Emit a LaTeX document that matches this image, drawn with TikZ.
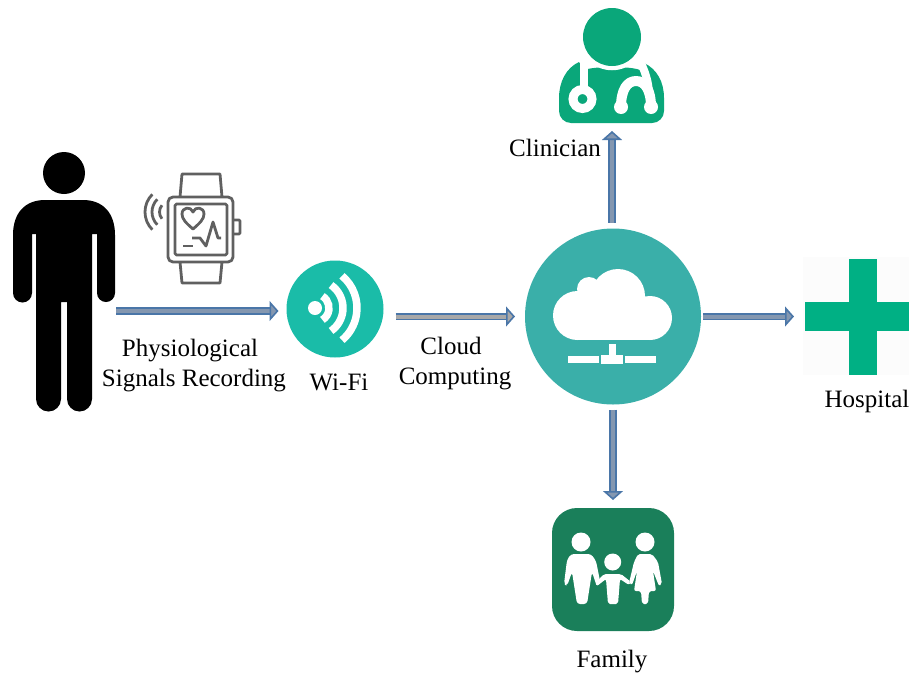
\documentclass[tikz,border=0pt]{standalone}
\usepackage{fontspec}
\setmainfont{Liberation Serif}
\usetikzlibrary{arrows.meta}
\definecolor{arrowedge}{HTML}{4A76A8}
\definecolor{arrowfill}{HTML}{8497B0}
\definecolor{arrowgray}{HTML}{A8A8A8}
\definecolor{wificol}{HTML}{1ABCA8}
\definecolor{cloudcol}{HTML}{3AAFA9}
\definecolor{doccol}{HTML}{0AA77A}
\definecolor{famcol}{HTML}{1A7F5A}
\definecolor{crosscol}{HTML}{00B084}
\definecolor{watchcol}{HTML}{606060}
\tikzset{
  blockarrow/.style={draw=arrowedge,line width=1.8pt,double=#1,double distance=4pt,
    -{Triangle[length=9pt,width=20pt,line width=1.6pt,fill=#1,color=arrowedge]}},
  blockarrow/.default=arrowfill,
  label text/.style={font=\fontsize{25}{30}\selectfont,inner sep=0pt,align=center},
  anchorbox/.style={inner sep=0pt,outer sep=0pt},
  watchline/.style={draw=watchcol,line width=2.8pt,line join=round},
  whiteline/.style={draw=white,line join=round},
}
\begin{document}
\begin{tikzpicture}[x=1pt,y=-1pt]
\useasboundingbox (0,0) rectangle (909,672);

% person
\fill[black] (64,173) circle[radius=21];
\fill[black] (13,235) .. controls (13,213) and (25,200) .. (45,200) -- (83,200)
  .. controls (103,200) and (115,213) .. (115,235) -- (115,293)
  arc[start angle=0,end angle=180,radius=9] -- (97,234) -- (92,234) -- (92,399)
  arc[start angle=0,end angle=180,radius=12.5] -- (67,302) -- (61,302) -- (61,399)
  arc[start angle=0,end angle=180,radius=12.5] -- (36,234) -- (32,234) -- (32,293)
  arc[start angle=0,end angle=180,radius=9.5] -- cycle;
\node[anchorbox,minimum width=104pt,minimum height=1pt] (person) at (64,311) {};

% watch
\draw[watchline,rounded corners=5pt] (168,197) rectangle (233,262);
\draw[watchline,rounded corners=1.5pt] (175,204) rectangle (227,255);
\draw[watchline] (180,197) -- (182,174) -- (220,174) -- (222,197);
\draw[watchline] (180,262) -- (182,283) -- (220,283) -- (222,262);
\draw[watchline,rounded corners=1pt] (233,220) -- (240,220) -- (240,234) -- (233,234);
\draw[watchline] (193,229) .. controls (186,223) and (182,219) .. (182,214)
  .. controls (182,207) and (191,206) .. (193,212)
  .. controls (195,206) and (204,207) .. (204,214)
  .. controls (204,219) and (200,223) .. (193,229) -- cycle;
\draw[watchline] (192,238) -- (200,238) -- (206,246) -- (213,222) -- (218,238) -- (221,238);
\draw[watchline] (183,246) -- (193,246);
\draw[watchline] (170,212) ++(140:10.5) arc[start angle=140,end angle=220,radius=10.5];
\draw[watchline] (170,212) ++(135:18) arc[start angle=135,end angle=225,radius=18];
\draw[watchline] (170,212) ++(135:25) arc[start angle=135,end angle=225,radius=25];

% wifi
\node[circle,fill=wificol,minimum size=97pt,inner sep=0pt,outer sep=0pt] (wifi) at (335,309) {};
\fill[white] (315,308) circle[radius=7];
\draw[white,line width=7.5pt] (315,308) ++(-58:14) arc[start angle=-58,end angle=58,radius=14];
\draw[white,line width=7.5pt] (315,308) ++(-55:28) arc[start angle=-55,end angle=55,radius=28];
\draw[white,line width=7.5pt] (315,308) ++(-50:42) arc[start angle=-50,end angle=50,radius=42];

% cloud
\node[circle,fill=cloudcol,minimum size=176pt,inner sep=0pt,outer sep=0pt] (cloud) at (613,316.5) {};
\fill[white] (577.5,315.5) circle[radius=24.5] (650,318) circle[radius=22]
  (618,296) circle[radius=27] (589,289) circle[radius=12];
\fill[white] (577,300) rectangle (650,340);
\fill[white] (568,356) rectangle (599,363);
\fill[white] (625,356) rectangle (656,363);
\fill[white] (609,344) rectangle (616,356);
\fill[white] (601,355) rectangle (623,364);

% clinician
\fill[doccol] (579,62) .. controls (566,68) and (559,82) .. (559,98) -- (559,111)
  arc[start angle=180,end angle=90,radius=12] -- (652,123)
  arc[start angle=90,end angle=0,radius=12] -- (664,98)
  .. controls (664,82) and (657,69) .. (644,63) -- (640,70)
  .. controls (630,66) and (595,66) .. (584,70) -- cycle;
\draw[white,line width=3.5pt] (612,37) circle[radius=31.5];
\fill[doccol] (612,37) circle[radius=29];
\draw[whiteline,line width=8pt] (584,62) -- (584,90);
\draw[white,line width=9pt] (582.5,99) circle[radius=9.5];
\draw[whiteline,line width=8pt] (641,63) .. controls (645,72) and (648,80) .. (649,92);
\draw[whiteline,line width=10pt] (621,107) .. controls (621,90) and (627,81) .. (636,81)
  .. controls (645,81) and (651,90) .. (651,107);
\fill[white] (621,107) circle[radius=7] (651,107) circle[radius=7];
\node[anchorbox,minimum width=105pt,minimum height=115pt] (doctor) at (612,65.5) {};

% hospital
\fill[black!1] (803,257) rectangle (909,375);
\fill[crosscol] (849,259) rectangle (877,375);
\fill[crosscol] (805,302) rectangle (909,331);
\node[anchorbox,minimum width=104pt,minimum height=116pt] (hospital) at (857,316.5) {};

% family
\node[rectangle,fill=famcol,rounded corners=25pt,minimum width=122pt,minimum height=123pt,inner sep=0pt,outer sep=0pt] (family) at (613,569.5) {};
\fill[white] (581,542) circle[radius=9.5] (612.7,562) circle[radius=8.5] (645,542) circle[radius=9.5];
\fill[white,rounded corners=3pt] (571,554) -- (591,554) -- (596,561) -- (600,581) -- (597,587)
  -- (592,572) -- (587,604) -- (577,604) -- (572,572) -- (567,586) -- (564,584) -- (567,560) -- cycle;
\fill[white,rounded corners=2pt] (604,574) -- (621,574) -- (631,582) -- (629,585) -- (620,579)
  -- (618,604) -- (608,604) -- (606,579) -- (597,586) -- (595,583) -- cycle;
\fill[white,rounded corners=2pt] (638,554) -- (652,554) -- (658,562) -- (662,584) -- (659,586)
  -- (653,571) -- (656,591) -- (649,591) -- (648,604) -- (642,604) -- (641,591) -- (634,591)
  -- (637,571) -- (632,585) -- (629,583) -- (634,562) -- cycle;

% connectors
\draw[blockarrow,shorten >=8pt] (person.east) -- (person.east -| wifi.west);
\draw[blockarrow=arrowgray,shorten <=12pt,shorten >=10pt] (wifi.east |- cloud.west) -- (cloud.west);
\draw[blockarrow,shorten <=6pt,shorten >=8pt] (cloud.north -| doctor.south) -- (doctor.south);
\draw[blockarrow,shorten <=2pt,shorten >=11pt] (cloud.east) -- (hospital.west);
\draw[blockarrow,shorten <=5pt,shorten >=8pt] (cloud.south) -- (family.north);

% labels
\node[label text] (lphys) at (194,366) {Physiological\hspace*{8pt}\\Signals Recording};
\node[label text] (lwifi) at (339,382) {Wi-Fi};
\node[label text] (lcloud) at (455,364) {Cloud\hspace*{8pt}\\Computing};
\node[label text] (lclin) at (555,148) {Clinician};
\node[label text] (lhosp) at (867,401) {Hospital};
\node[label text] (lfam) at (612,662) {Family};
\end{tikzpicture}
\end{document}
